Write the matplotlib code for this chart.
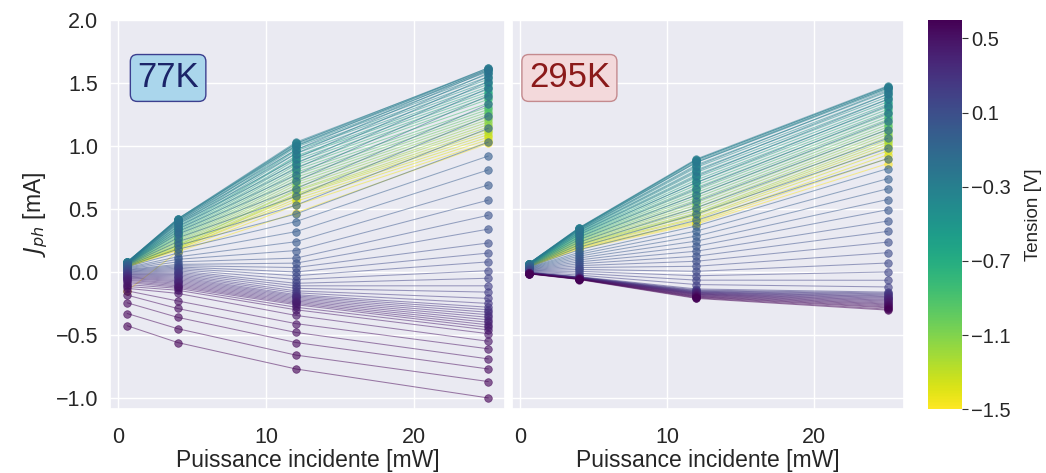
import matplotlib
matplotlib.use("Agg")
import matplotlib.pyplot as plt
import numpy as np
import seaborn as sns
from matplotlib.colors import Normalize
from matplotlib.cm import ScalarMappable

# incident power [mW]
power = [0.6, 4, 12, 25]

# bias voltage [V] (one curve per value)
voltages = [-1.50, -1.46, -1.42, -1.38, -1.34, -1.30, -1.26, -1.22, -1.18, -1.14,
            -1.10, -1.06, -1.02, -0.98, -0.94, -0.90, -0.86, -0.82, -0.78, -0.74,
            -0.70, -0.66, -0.62, -0.58, -0.54, -0.50, -0.46, -0.42, -0.38, -0.34,
            -0.30,
            -0.28, -0.26, -0.24, -0.22, -0.20, -0.18, -0.16, -0.14, -0.12, -0.10,
            -0.08, -0.06, -0.04, -0.02, 0.00, 0.02, 0.04, 0.06, 0.08, 0.10,
            0.12, 0.14, 0.16, 0.18, 0.20, 0.22, 0.24, 0.26, 0.28, 0.30,
            0.32, 0.34, 0.36, 0.38, 0.40, 0.42, 0.44, 0.46, 0.48, 0.50,
            0.52, 0.54, 0.56, 0.58, 0.60]

# photocurrent [mA] at 77 K, one list per power
j77_p06 = [-0.15, 0.04, 0.041, 0.043, 0.045, 0.047, 0.049, 0.051, 0.053, 0.055,
           0.057, 0.059, 0.061, 0.062, 0.064, 0.065, 0.067, 0.068, 0.069, 0.070,
           0.071, 0.072, 0.073, 0.074, 0.075, 0.076, 0.077, 0.078, 0.078, 0.079,
           0.079,
           0.079, 0.078, 0.076, 0.074, 0.072, 0.070, 0.067, 0.065, 0.062, 0.060,
           0.057, 0.055, 0.050, 0.045,
           0.040, 0.035, 0.030, 0.025, 0.020, 0.015, 0.010, 0.005, 0.000, -0.005,
           -0.010, -0.015, -0.020,
           -0.025, -0.030, -0.035, -0.040, -0.045, -0.050, -0.058, -0.065, -0.075, -0.085,
           -0.10, -0.115, -0.13, -0.15, -0.184, -0.245, -0.33, -0.427]
j77_p4 = [0.16, 0.17, 0.18, 0.18, 0.19, 0.19, 0.20, 0.21, 0.21, 0.22,
          0.23, 0.24, 0.25, 0.26, 0.27, 0.28, 0.29, 0.30, 0.31, 0.32,
          0.33, 0.34, 0.35, 0.36, 0.37, 0.38, 0.39, 0.40, 0.41, 0.41,
          0.42,
          0.42, 0.42, 0.41, 0.40, 0.39, 0.38, 0.36, 0.34, 0.32, 0.30,
          0.27, 0.24, 0.21, 0.18,
          0.15, 0.12, 0.10, 0.08, 0.06, 0.05, 0.04, 0.03, 0.02, 0.01,
          0.00, -0.01, -0.02,
          -0.03, -0.04, -0.05, -0.06, -0.07, -0.08, -0.09, -0.10, -0.11, -0.12,
          -0.13, -0.145, -0.17, -0.23, -0.29, -0.36, -0.45, -0.56]
j77_p12 = [0.47, 0.53, 0.56, 0.58, 0.60, 0.61, 0.62, 0.64, 0.65, 0.67,
           0.69, 0.71, 0.73, 0.75, 0.77, 0.79, 0.81, 0.83, 0.85, 0.87,
           0.89, 0.91, 0.92, 0.94, 0.96, 0.97, 0.99, 1.00, 1.01, 1.02,
           1.03,
           1.02, 1.00, 0.97, 0.94, 0.90, 0.86, 0.82, 0.77, 0.72, 0.66,
           0.60, 0.53, 0.46, 0.40,
           0.32, 0.24, 0.17, 0.11, 0.07, 0.035, 0.00, -0.03, -0.06, -0.09,
           -0.11, -0.13, -0.15,
           -0.165, -0.18, -0.19, -0.20, -0.21, -0.22, -0.23, -0.24, -0.25, -0.26,
           -0.28, -0.30, -0.345, -0.41, -0.48, -0.56, -0.66, -0.77]
j77_p25 = [1.02, 1.03, 1.05, 1.07, 1.09, 1.11, 1.13, 1.15, 1.17, 1.19,
           1.21, 1.23, 1.25, 1.27, 1.29, 1.31, 1.34, 1.37, 1.39, 1.41,
           1.43, 1.45, 1.47, 1.49, 1.51, 1.53, 1.55, 1.57, 1.59, 1.60,
           1.61,
           1.62, 1.62, 1.61, 1.60, 1.58, 1.55, 1.51, 1.46, 1.40, 1.33,
           1.24, 1.14, 1.03, 0.92,
           0.81, 0.69, 0.57, 0.45, 0.34, 0.23, 0.15, 0.08, 0.01, -0.05,
           -0.11, -0.16, -0.21,
           -0.25, -0.28, -0.30, -0.32, -0.34, -0.36, -0.38, -0.40, -0.42, -0.44,
           -0.46, -0.49, -0.55, -0.61, -0.69, -0.77, -0.87, -1.00]

# photocurrent [mA] at 295 K
j295_p06 = [0.04, 0.041, 0.042, 0.043, 0.044, 0.045, 0.046, 0.047, 0.048, 0.049,
            0.05, 0.051, 0.052, 0.053, 0.054, 0.055, 0.056, 0.057, 0.058, 0.059,
            0.06, 0.061, 0.062, 0.062, 0.063, 0.064, 0.064, 0.065, 0.065, 0.066,
            0.066,
            0.066, 0.065, 0.064, 0.062, 0.06, 0.057, 0.054, 0.051, 0.048, 0.045,
            0.042, 0.039, 0.036, 0.033,
            0.03, 0.027, 0.024, 0.021, 0.018, 0.015, 0.012, 0.009, 0.006, 0.003,
            0.0, -0.003, -0.004,
            -0.005, -0.006, -0.007, -0.007, -0.008, -0.008, -0.009, -0.009, -0.01, -0.01,
            -0.011, -0.011, -0.012, -0.012, -0.013, -0.013, -0.014, -0.015]
j295_p4 = [0.18, 0.188, 0.194, 0.20, 0.206, 0.212, 0.218, 0.224, 0.23, 0.236,
           0.242, 0.248, 0.254, 0.26, 0.266, 0.272, 0.278, 0.284, 0.29, 0.296,
           0.302, 0.308, 0.314, 0.32, 0.325, 0.33, 0.335, 0.34, 0.344, 0.347,
           0.35,
           0.347, 0.342, 0.335, 0.325, 0.31, 0.295, 0.275, 0.255, 0.235, 0.215,
           0.195, 0.175, 0.155, 0.14,
           0.125, 0.11, 0.095, 0.08, 0.065, 0.05, 0.035, 0.02, 0.005, -0.01,
           -0.025, -0.037, -0.04,
           -0.042, -0.043, -0.044, -0.045, -0.046, -0.047, -0.048, -0.049, -0.05, -0.051,
           -0.052, -0.053, -0.054, -0.055, -0.056, -0.057, -0.058, -0.06]
j295_p12 = [0.38, 0.39, 0.40, 0.42, 0.43, 0.45, 0.46, 0.47, 0.49, 0.51,
            0.53, 0.55, 0.57, 0.59, 0.61, 0.63, 0.65, 0.67, 0.69, 0.71,
            0.73, 0.75, 0.77, 0.79, 0.81, 0.83, 0.85, 0.87, 0.88, 0.89,
            0.897,
            0.89, 0.87, 0.84, 0.80, 0.76, 0.71, 0.66, 0.61, 0.56, 0.51,
            0.46, 0.41, 0.365, 0.325,
            0.285, 0.245, 0.205, 0.165, 0.125, 0.085, 0.045, 0.005, -0.03, -0.065,
            -0.10, -0.135, -0.143,
            -0.148, -0.152, -0.156, -0.159, -0.162, -0.165, -0.168, -0.171, -0.174, -0.177,
            -0.18, -0.184, -0.188, -0.192, -0.196, -0.20, -0.205, -0.21]
j295_p25 = [0.86, 0.90, 0.93, 0.96, 0.99, 1.01, 1.03, 1.05, 1.07, 1.09,
            1.11, 1.13, 1.15, 1.17, 1.19, 1.21, 1.23, 1.25, 1.27, 1.29,
            1.31, 1.33, 1.35, 1.37, 1.39, 1.41, 1.43, 1.45, 1.46, 1.47,
            1.477,
            1.47, 1.46, 1.44, 1.41, 1.37, 1.32, 1.26, 1.20, 1.13, 1.06,
            0.98, 0.90, 0.82, 0.74,
            0.66, 0.575, 0.494, 0.404, 0.322, 0.237, 0.153, 0.071, 0.0, -0.066,
            -0.119, -0.16, -0.168,
            -0.175, -0.182, -0.19, -0.196, -0.203, -0.21, -0.218, -0.225, -0.232, -0.24,
            -0.248, -0.255, -0.262, -0.27, -0.278, -0.285, -0.295, -0.303]

sns.set_theme(style="darkgrid")
plt.rcParams['font.family'] = ['Liberation Sans', 'DejaVu Sans']

fig = plt.figure(figsize=(10.46, 4.73), dpi=100)
ax1 = fig.add_axes([0.1052, 0.1347, 0.3776, 0.8231])
ax2 = fig.add_axes([0.4892, 0.1347, 0.3753, 0.8231], sharey=ax1)
cax = fig.add_axes([0.8869, 0.1347, 0.0325, 0.8231])

cmap = plt.get_cmap('viridis_r')
norm = Normalize(vmin=-1.5, vmax=0.6)

panels = [(ax1, [j77_p06, j77_p4, j77_p12, j77_p25]),
          (ax2, [j295_p06, j295_p4, j295_p12, j295_p25])]

for ax, cols in panels:
    data = np.array(cols).T  # rows = voltages
    for v, row in zip(voltages, data):
        c = cmap(norm(v))
        ax.plot(power, row, '-', color=c, lw=0.75, alpha=0.5)
        ax.plot(power, row, 'o', color=c, ms=5.5, alpha=0.62, mec=c, mew=0.5)
    ax.set_xlim(-0.56, 26.13)
    ax.set_xticks([0, 10, 20])
    ax.set_xlabel('Puissance incidente [mW]', fontsize=16.5, labelpad=1)
    ax.tick_params(axis='x', labelsize=15.5, pad=6.5)
    ax.tick_params(axis='y', labelsize=15.5, pad=2.5)

ax1.set_ylim(-1.09, 2.0)
ax1.set_yticks([-1.0, -0.5, 0.0, 0.5, 1.0, 1.5, 2.0])
ax1.set_ylabel('$J_{ph}$ [mA]', fontsize=16.5, labelpad=4)
plt.setp(ax2.get_yticklabels(), visible=False)

ax1.text(0.147, 0.851, '77K', transform=ax1.transAxes, fontsize=25,
         color='#1b2468', ha='center', va='center',
         bbox=dict(boxstyle='round,pad=0.2', fc='#aad6ec', ec='#3c3f8f', lw=1))
ax2.text(0.147, 0.851, '295K', transform=ax2.transAxes, fontsize=25,
         color='#8b1a1a', ha='center', va='center',
         bbox=dict(boxstyle='round,pad=0.2', fc='#f3d9db', ec='#c48a8e', lw=1))

sm = ScalarMappable(norm=norm, cmap=cmap)
cb = fig.colorbar(sm, cax=cax)
cb.set_ticks([0.5, 0.1, -0.3, -0.7, -1.1, -1.5])
cb.outline.set_visible(False)
cax.tick_params(labelsize=14.5, length=4, width=0.8, color='#333333', pad=3, right=True)
cb.set_label('Tension [V]', fontsize=13.5, labelpad=10)

fig.savefig('out.png', dpi=100)
